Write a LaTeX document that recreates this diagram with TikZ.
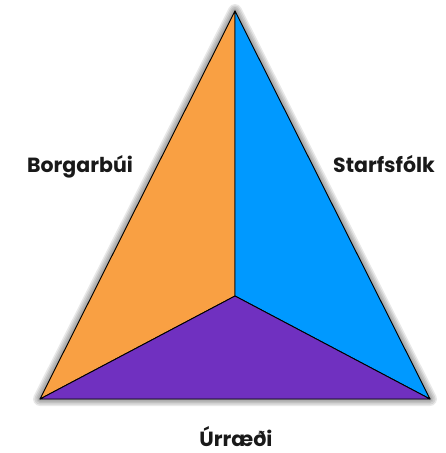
\documentclass[tikz,border=0pt]{standalone}
\usepackage{fontspec}
\setmainfont{Poppins}
\definecolor{orng}{HTML}{F9A043}
\definecolor{blu}{HTML}{0099FF}
\definecolor{purp}{HTML}{7030C0}
\tikzset{face/.style={draw=black,line width=0.9pt,line join=round},
shd/.style={draw=black,line join=round,opacity=0.09},
lbl/.style={font=\fontsize{20.5}{24}\selectfont\bfseries,text=black!90,inner sep=1pt}}
\begin{document}
\begin{tikzpicture}[x=1pt,y=-1pt]
\useasboundingbox (0,0) rectangle (445,453);
\coordinate (T) at (235,11);
\coordinate (L) at (40,399);
\coordinate (R) at (430,399);
\coordinate (C) at (235,296);
\begin{scope}[shift={(6,7)}]
\foreach \w in {14,11,8,5,2}{
  \filldraw[shd,line width=\w pt] (T) -- (R) -- (L) -- cycle;
}
\end{scope}
\filldraw[face,fill=orng] (T) -- (C) -- (L) -- cycle;
\filldraw[face,fill=blu] (T) -- (R) -- (C) -- cycle;
\filldraw[face,fill=purp] (C) -- (R) -- (L) -- cycle;
\node[lbl,anchor=base] (b) at (80,172) {Borgarbúi};
\node[lbl,anchor=base] (s) at (384,172) {Starfsfólk};
\node[lbl,anchor=base] (u) at (236,446) {Úrræði};
\end{tikzpicture}
\end{document}
